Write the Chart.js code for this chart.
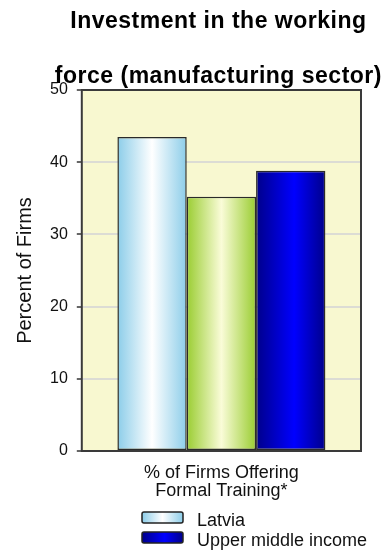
<!DOCTYPE html>
<html><head><meta charset="utf-8">
<script src="https://cdn.jsdelivr.net/npm/chart.js@4"></script>
<style>html,body{margin:0;padding:0;background:#fff;overflow:hidden}</style>
</head><body>
<canvas id="c" width="387" height="550"></canvas>
<script>
// ---- data ----
const titleLines = ["Investment in the working", "force (manufacturing sector)"];
const categories = [["% of Firms Offering", "Formal Training*"]];
const seriesNames = ["Latvia", "Europe and Central Asia", "Upper middle income"];
const latviaValues = [43.5];
const ecaValues = [35.2];
const umiValues = [38.8];
const yTicks = [0, 10, 20, 30, 40, 50];
const legendOrder = [0, 2, 1];

// ---- styles ----
const CAT_PCT = 0.745;
const gradStops = [
  {edge: '#8ccde9', mid: '#ffffff', pos: 0.5},
  {edge: '#9acd32', mid: '#fafcd8', pos: 0.5},
  {edge: '#00008a', mid: '#0000ff', pos: 0.55}
];
function makeGrad(ctx, left, w, s) {
  const g = ctx.createLinearGradient(left, 0, left + w, 0);
  g.addColorStop(0, s.edge); g.addColorStop(s.pos, s.mid); g.addColorStop(1, s.edge);
  return g;
}
function barFill(di) {
  return (c) => {
    const chart = c.chart, xs = chart.scales.x;
    const s = gradStops[di];
    if (!xs || !chart.chartArea) return s.edge;
    const n = chart.data.datasets.length;
    const catW = xs.width / chart.data.labels.length;
    const barW = catW * CAT_PCT / n;
    const center = xs.getPixelForValue(c.dataIndex);
    const left = center - catW * CAT_PCT / 2 + di * barW;
    return makeGrad(chart.ctx, left, barW, s);
  };
}

const plotBg = {
  id: 'plotBg',
  beforeDraw(chart) {
    const {ctx, chartArea: a} = chart;
    ctx.save(); ctx.fillStyle = '#f8f8d0';
    ctx.fillRect(a.left, a.top, a.width, a.height); ctx.restore();
  },
  afterDatasetsDraw(chart) {
    const {ctx, chartArea: a} = chart;
    ctx.save(); ctx.strokeStyle = '#3a3a3a'; ctx.lineWidth = 2;
    ctx.strokeRect(a.left, a.top, a.width, a.height); ctx.restore();
  }
};
const chartTitle = {
  id: 'chartTitle',
  afterDraw(chart) {
    const ctx = chart.ctx, a = chart.chartArea;
    const cx = (a.left + a.right) / 2 - 3;
    ctx.save();
    ctx.fillStyle = '#000';
    ctx.font = 'bold 23px "Liberation Sans", Arial, sans-serif';
    ctx.letterSpacing = '0.5px';
    ctx.textAlign = 'center'; ctx.textBaseline = 'alphabetic';
    titleLines.forEach((t, i) => ctx.fillText(t, cx, 28 + i * 55));
    ctx.restore();
  }
};
const customLegend = {
  id: 'customLegend',
  afterDraw(chart) {
    const ctx = chart.ctx;
    ctx.save();
    legendOrder.forEach((di, row) => {
      const ds = chart.data.datasets[di];
      const top = 512 + row * 20, left = 142, w = 41, h = 11;
      ctx.fillStyle = makeGrad(ctx, left, w, gradStops[di]);
      ctx.beginPath();
      ctx.roundRect(left, top, w, h, 2);
      ctx.fill();
      ctx.strokeStyle = '#222'; ctx.lineWidth = 1.5; ctx.stroke();
      ctx.fillStyle = '#111';
      ctx.font = '18px "Liberation Sans", Arial, sans-serif';
      ctx.textBaseline = 'alphabetic'; ctx.textAlign = 'left';
      ctx.fillText(ds.label, 197, top + 14);
    });
    ctx.restore();
  }
};

const valueArrays = [latviaValues, ecaValues, umiValues];
new Chart(document.getElementById('c'), {
  type: 'bar',
  data: {
    labels: categories,
    datasets: seriesNames.map((name, i) => ({
      label: name,
      data: valueArrays[i],
      backgroundColor: barFill(i),
      borderColor: '#2a2a2a',
      borderWidth: 1.5,
      borderSkipped: false,
      barPercentage: 1.0,
      categoryPercentage: CAT_PCT
    }))
  },
  options: {
    responsive: false,
    animation: false,
    devicePixelRatio: 1,
    layout: {padding: {left: 9, right: 26, top: 90, bottom: 37}},
    plugins: {
      legend: {display: false},
      tooltip: {enabled: false},
      title: {display: false}
    },
    scales: {
      x: {
        grid: {display: false, drawTicks: false},
        border: {display: false},
        ticks: {font: {family: 'Liberation Sans', size: 18, lineHeight: 1}, color: '#111', padding: 13}
      },
      y: {
        min: 0, max: 50,
        afterBuildTicks: (s) => { s.ticks = yTicks.map(v => ({value: v})); },
        ticks: {font: {family: 'Liberation Sans', size: 16}, color: '#111', padding: 9},
        grid: {color: '#dcdcd4', lineWidth: 2, tickColor: '#333', tickLength: 5, tickWidth: 1.5},
        border: {display: false},
        title: {display: true, text: 'Percent of Firms', color: '#111',
          font: {family: 'Liberation Sans', size: 20}, padding: {top: 4, bottom: 4}}
      }
    }
  },
  plugins: [plotBg, chartTitle, customLegend]
});
</script>
</body></html>
